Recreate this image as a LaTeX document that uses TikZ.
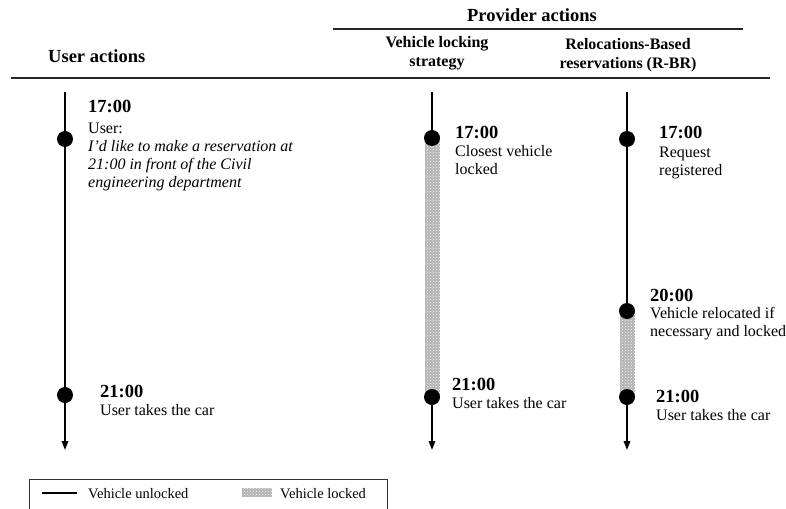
\documentclass[tikz,border=0pt]{standalone}
\usepackage{fontspec}
\setmainfont{Liberation Serif}
\usetikzlibrary{arrows.meta,patterns,calc}
\newcommand{\lstack}[1]{\vtop{\halign{##\hfil\cr#1\crcr}}}
\newcommand{\cstack}[1]{\vtop{\halign{\hfil##\hfil\cr#1\crcr}}}
\tikzset{
  tline/.style={line width=1.7pt, black},
  tarrow/.style={tline, -{Triangle[length=9pt,width=6.5pt]}},
  dot/.style={circle, fill=black, minimum size=16pt, inner sep=0pt},
  lockbar/.style={fill=gray!60, postaction={pattern=crosshatch dots, pattern color=white}},
  rule/.style={line width=1.2pt, black!85},
  timelbl/.style={anchor=base west, inner sep=0pt, font=\fontsize{18.5}{20}\selectfont\bfseries},
  desc/.style={anchor=base west, inner sep=0pt, font=\fontsize{16}{18.3}\selectfont},
  head/.style={anchor=base, inner sep=0pt, font=\fontsize{18.5}{20}\selectfont\bfseries},
  subhead/.style={anchor=base, inner sep=0pt, font=\fontsize{16}{19}\selectfont\bfseries},
  legtext/.style={anchor=base west, inner sep=0pt, font=\fontsize{14.5}{16}\selectfont},
}
\begin{document}
\begin{tikzpicture}[x=1pt,y=-1pt]
\useasboundingbox (0,0) rectangle (786,508);

% headers
\node[head, anchor=base west] (huser) at (48,63) {User actions};
\node[head] (hprov) at (532,22) {Provider actions};
\coordinate (pl) at (333,29);
\coordinate (pr) at (743,29);
\draw[rule] (pl) -- (pr);
\node[subhead] (hvls) at (437,48) {\cstack{Vehicle locking\cr strategy}};
\node[subhead] (hrbr) at (628,50) {\cstack{Relocations-Based\cr reservations (R-BR)}};
\coordinate (rl) at (11,78);
\coordinate (rr) at (770,78);
\draw[rule] (rl) -- (rr);

% lock bars
\coordinate (mb1) at (425,138);
\coordinate (mb2) at (440,397);
\fill[lockbar] (mb1) rectangle (mb2);
\coordinate (rb1) at (620,311);
\coordinate (rb2) at (635,397);
\fill[lockbar] (rb1) rectangle (rb2);

% user column
\coordinate (utop) at (65,92);
\node[dot] (u1) at (65,139) {};
\node[dot] (u2) at (65,395) {};
\coordinate (ubot) at (65,450);
\draw[tline] (utop) -- (u1.center) -- (u2.center);
\draw[tarrow] (u2.center) -- (ubot);
\node[timelbl] (ut1) at (88,113) {17:00};
\node[desc] (ud1) at (88,133) {\lstack{User:\cr \itshape I’d like to make a reservation at\cr \itshape 21:00 in front of the Civil\cr \itshape engineering department}};
\node[timelbl] (ut2) at (100,397) {21:00};
\node[desc] (ud2) at (100,415) {User takes the car};

% vehicle locking column
\coordinate (mtop) at (432,92);
\node[dot] (m1) at (432,138) {};
\node[dot] (m2) at (432,397) {};
\coordinate (mbot) at (432,450);
\draw[tline] (mtop) -- (m1.center);
\draw[tarrow] (m2.center) -- (mbot);
\node[timelbl] (mt1) at (455,138) {17:00};
\node[desc] (md1) at (455,156) {\lstack{Closest vehicle\cr locked}};
\node[timelbl] (mt2) at (452,390) {21:00};
\node[desc] (md2) at (452,408) {User takes the car};

% R-BR column
\coordinate (rtop) at (627,92);
\node[dot] (r1) at (627,139) {};
\node[dot] (r2) at (627,311) {};
\node[dot] (r3) at (627,397) {};
\coordinate (rbot) at (627,450);
\draw[tline] (rtop) -- (r1.center) -- (r2.center);
\draw[tarrow] (r3.center) -- (rbot);
\node[timelbl] (rt1) at (659,139) {17:00};
\node[desc] (rd1) at (659,157) {\lstack{Request\cr registered}};
\node[timelbl] (rt2) at (650,301) {20:00};
\node[desc] (rd2) at (650,318) {\lstack{Vehicle relocated if\cr necessary and locked}};
\node[timelbl] (rt3) at (656,402) {21:00};
\node[desc] (rd3) at (656,420) {User takes the car};

% legend
\coordinate (lg1) at (29,515);
\coordinate (lg2) at (29,479);
\coordinate (lg3) at (387,479);
\coordinate (lg4) at (387,515);
\draw[line width=1pt, black!80] (lg1) -- (lg2) -- (lg3) -- (lg4);
\coordinate (ls1) at (42,493);
\coordinate (ls2) at (77,493);
\draw[line width=1.5pt] (ls1) -- (ls2);
\node[legtext] (lt1) at (88,498) {Vehicle unlocked};
\coordinate (lsw1) at (242,488);
\coordinate (lsw2) at (272,497);
\fill[lockbar] (lsw1) rectangle (lsw2);
\node[legtext] (lt2) at (280,498) {Vehicle locked};
\end{tikzpicture}
\end{document}
